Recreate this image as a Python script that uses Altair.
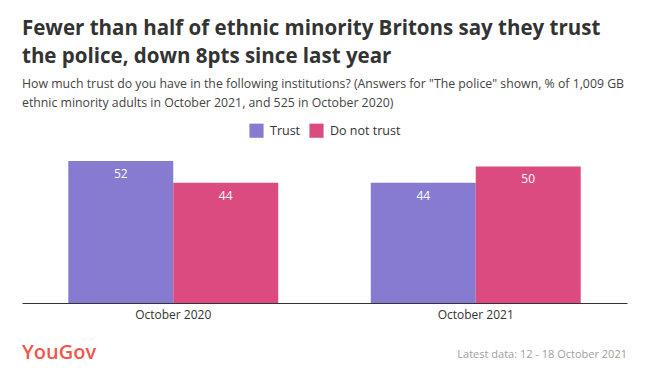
import altair as alt
import pandas as pd

periods = ["October 2020", "October 2020", "October 2021", "October 2021"]
answers = ["Trust", "Do not trust", "Trust", "Do not trust"]
values = [52, 44, 44, 50]

series_order = ["Trust", "Do not trust"]
series_colors = ["#877bd1", "#dc4b7f"]

title_lines = ["Fewer than half of ethnic minority Britons say they trust",
               "the police, down 8pts since last year"]
subtitle_lines = ["How much trust do you have in the following institutions? (Answers for \"The police\" shown, % of 1,009 GB",
                  "ethnic minority adults in October 2021, and 525 in October 2020)"]
footer_left = "YouGov"
footer_right = "Latest data: 12 - 18 October 2021"

FONT = "Open Sans"

df = pd.DataFrame({"period": periods, "answer": answers, "value": values})

x = alt.X("period:N", title=None,
          scale=alt.Scale(paddingInner=0.306, paddingOuter=0.153),
          axis=alt.Axis(labelAngle=0, ticks=False, domainColor="#333333", domainWidth=1.2,
                        labelColor="#333333", labelFontSize=12, labelFont=FONT, labelPadding=6))
y = alt.Y("value:Q", title=None, axis=None, scale=alt.Scale(domain=[0, 52], nice=False))
xoff = alt.XOffset("answer:N", sort=series_order, scale=alt.Scale(paddingInner=0, paddingOuter=0))

bars = alt.Chart(df).mark_bar().encode(
    x=x, y=y, xOffset=xoff,
    color=alt.Color("answer:N", sort=series_order,
                    scale=alt.Scale(domain=series_order, range=series_colors),
                    legend=alt.Legend(title=None, orient="none", direction="horizontal",
                                      legendX=227, legendY=-38, symbolType="square",
                                      symbolSize=200, symbolStrokeWidth=0, symbolOpacity=1,
                                      labelFontSize=12.5, labelFont=FONT, labelColor="#333333",
                                      columnPadding=8, labelOffset=6)),
)

labels = alt.Chart(df).mark_text(color="white", fontSize=12, font=FONT, baseline="middle", dy=13).encode(
    x=x, y=y, xOffset=xoff, text=alt.Text("value:Q"),
)

foot_df = pd.DataFrame({"left": [footer_left], "right": [footer_right]})
logo = alt.Chart(foot_df).mark_text(align="left", baseline="alphabetic", fontSize=20, fontWeight=600,
                                    font=FONT, color="#f0564a").encode(
    x=alt.value(0), y=alt.value(198), text="left:N")
note = alt.Chart(foot_df).mark_text(align="right", baseline="alphabetic", fontSize=11,
                                    font=FONT, color="#a0a0a0").encode(
    x=alt.value(605), y=alt.value(197), text="right:N")

chart = alt.layer(bars, labels, logo, note).properties(
    width=605, height=142,
    autosize=alt.AutoSizeParams(type="none"),
    padding={"left": 14, "top": 153, "right": 12, "bottom": 67},
    title=alt.TitleParams(text=title_lines, subtitle=subtitle_lines, anchor="start", frame="group",
                          font=FONT, fontSize=20.5, fontWeight="bold", color="#333333", lineHeight=28,
                          subtitleFont=FONT, subtitleFontSize=12.3, subtitleColor="#444444",
                          subtitleLineHeight=19, subtitlePadding=10, offset=14),
).configure_view(stroke=None)

chart.save("out.html", embed_options={"renderer": "svg", "actions": False})
